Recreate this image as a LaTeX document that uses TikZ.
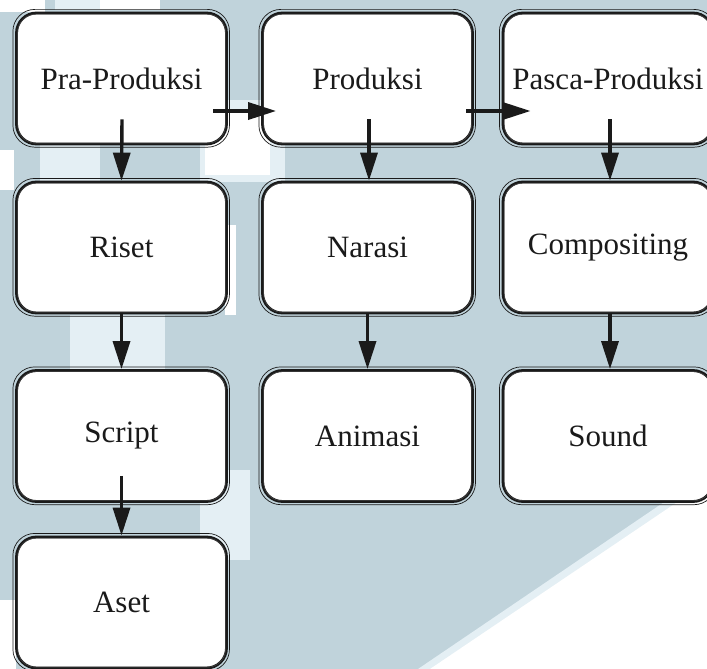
\documentclass[tikz,border=0pt]{standalone}
\usepackage{fontspec}
\setmainfont{Liberation Serif}
\usetikzlibrary{arrows.meta,calc}
\definecolor{bgblue}{RGB}{192,211,219}
\definecolor{bglight}{RGB}{228,239,244}
\definecolor{ink}{RGB}{26,26,26}
\begin{document}
\begin{tikzpicture}[x=1pt,y=-1pt,
  stage/.style={draw=ink, line width=2.8pt, rounded corners=20pt, fill=white,
    minimum width=210pt, minimum height=131pt, inner sep=0pt,
    font=\fontsize{31}{36}\selectfont, text=ink},
  flow/.style={draw=ink, line width=3.4pt, -{Triangle[length=28pt,width=17pt]}},
  sketchout/.style={draw=ink, line width=0.7pt, rounded corners=22pt},
  sketchin/.style={draw=ink!80, line width=0.5pt, rounded corners=18pt}]
\useasboundingbox (0,0) rectangle (707,669);
\begin{scope}
\clip (0,0) rectangle (707,669);
% background watermark approximation
\fill[bgblue] (0,0) rectangle (707,669);
\fill[white] (0,0) rectangle (45,12);
\fill[bglight] (55,0) rectangle (100,10);
\fill[white] (100,0) rectangle (160,10);
\fill[bglight] (200,100) rectangle (285,182);
\fill[white] (205,110) rectangle (270,175);
\fill[white] (225,225) rectangle (236,315);
\fill[white] (0,150) rectangle (14,190);
\fill[bglight] (40,145) rectangle (100,182);
\fill[bglight] (70,315) rectangle (165,370);
\fill[bglight] (200,470) rectangle (250,560);
\fill[white] (0,600) rectangle (16,669);
\fill[bglight] (418,669) -- (707,473) -- (707,669) -- cycle;
\fill[white] (430,669) -- (707,482) -- (707,669) -- cycle;

% nodes
\node[stage] (pra)  at (121.5,78.5) {Pra-Produksi};
\node[stage] (riset) at (121.5,247.5) {Riset};
\node[stage] (script) at (121.5,436) {Script};
\node[stage] (aset) at (121.5,602.5) {Aset};
\node[stage] (prod) at (367.5,78.5) {Produksi};
\node[stage] (narasi) at (367.5,247.5) {Narasi};
\node[stage] (anim) at (367.5,436) {Animasi};
\node[stage] (pasca) at (608,78.5) {Pasca-Produksi};
\node[stage] (comp) at (608,247.5) {Compositing};
\node[stage] (sound) at (608,436) {Sound};

% sketchy extra strokes
\foreach \n in {pra,riset,script,aset,prod,narasi,anim,pasca,comp,sound}{
  \draw[sketchout] ($(\n.south west)+(-2.2,1.8)$) rectangle ($(\n.north east)+(1.6,-2.2)$);
  \draw[sketchin] ($(\n.south west)+(2.6,-2.2)$) rectangle ($(\n.north east)+(-2.4,2.6)$);
}

% connectors
\draw[flow] ($(pra.south)+(0.5,-26)$) -- (riset.north);
\draw[flow] (riset.south) -- (script.north);
\draw[flow] ($(script.south)+(0,-27)$) -- (aset.north);
\draw[flow] ($(prod.south)+(1.5,-26)$) -- ($(narasi.north)+(1.5,0)$);
\draw[flow] (narasi.south) -- (anim.north);
\draw[flow] ($(pasca.south)+(2,-26)$) -- ($(comp.north)+(2,0)$);
\draw[flow] ($(comp.south)+(2,0)$) -- ($(sound.north)+(2,0)$);
\draw[flow] ($(pra.east)+(-14.5,32.5)$) -- ($(prod.west)+(15,32.5)$);
\draw[flow] ($(prod.east)+(-7.5,32.5)$) -- ($(pasca.west)+(29,32.5)$);
\end{scope}
\end{tikzpicture}
\end{document}
